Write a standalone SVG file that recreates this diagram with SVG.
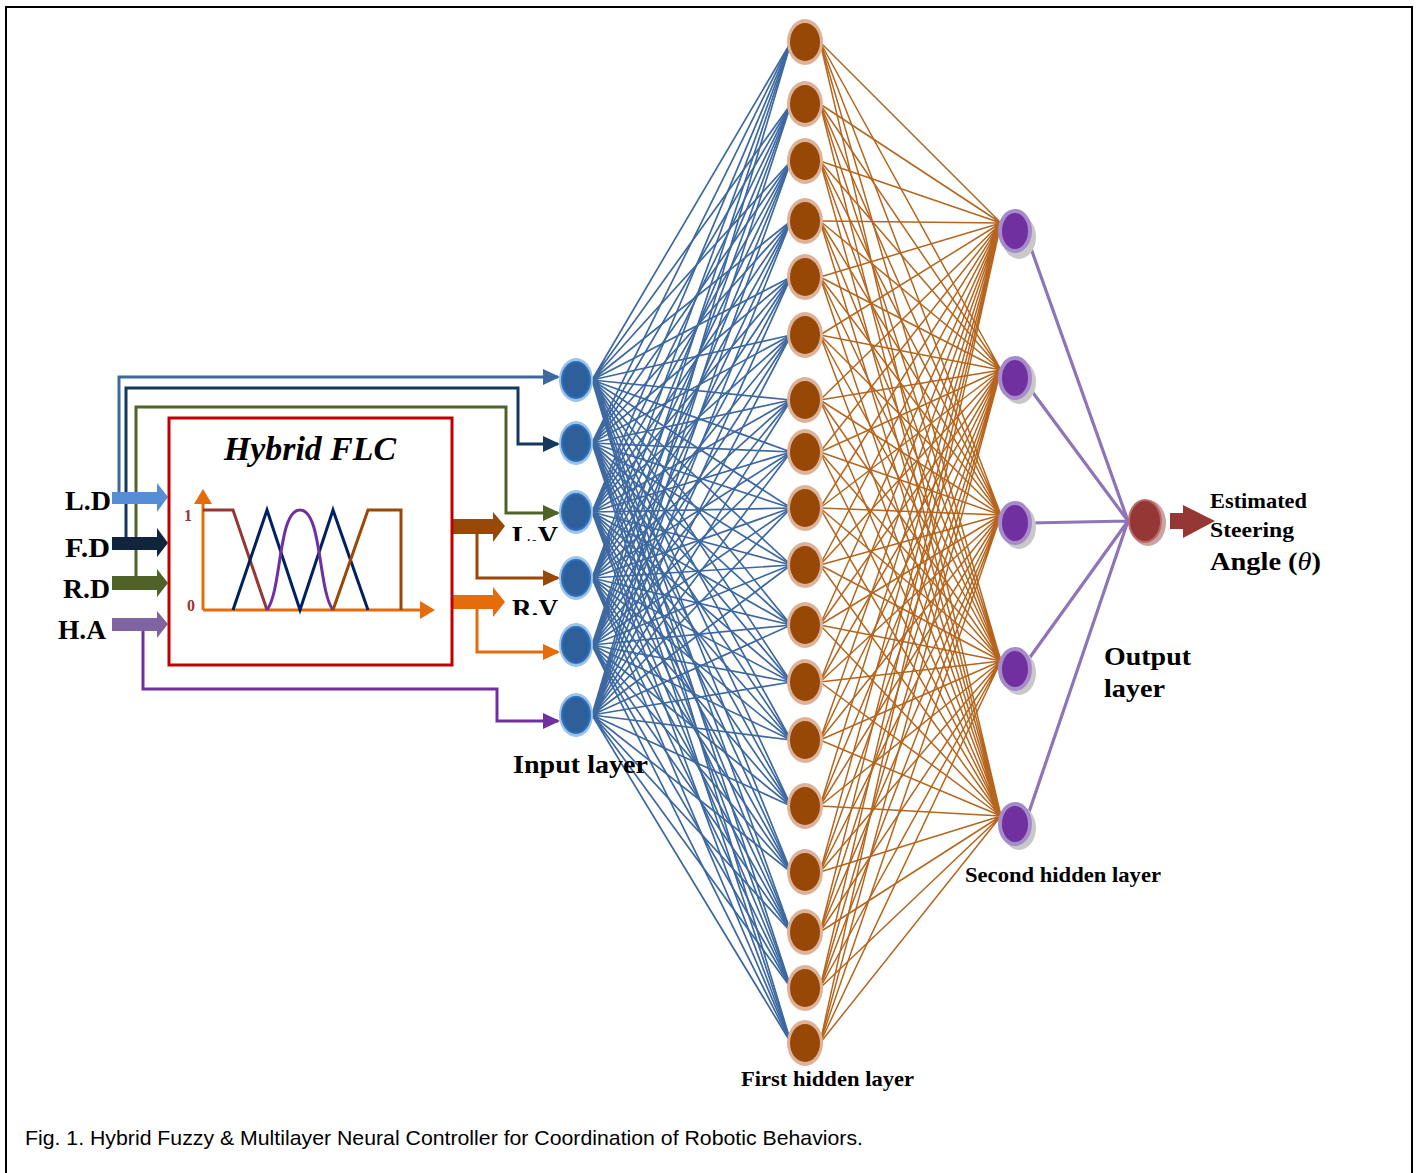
<svg xmlns="http://www.w3.org/2000/svg" width="1418" height="1173" viewBox="0 0 1418 1173">
<style>
.lbl{font-family:"Liberation Serif","Times New Roman",serif;font-weight:bold;fill:#000}
.wb{fill:none;stroke:#3d68a0;stroke-width:1.7}
.wr{fill:none;stroke:#b5651d;stroke-width:1.5}
.wp{fill:none;stroke:#8e74b8;stroke-width:3.2}
.th{fill:none;stroke-width:3}
</style>
<defs>
<marker id="aB" markerWidth="6" markerHeight="6" refX="5" refY="3" orient="auto" markerUnits="strokeWidth"><path d="M0,0.3 L5.7,3 L0,5.7 Z" fill="#3d68a0"/></marker>
<marker id="aN" markerWidth="6" markerHeight="6" refX="5" refY="3" orient="auto" markerUnits="strokeWidth"><path d="M0,0.3 L5.7,3 L0,5.7 Z" fill="#17375e"/></marker>
<marker id="aG" markerWidth="6" markerHeight="6" refX="5" refY="3" orient="auto" markerUnits="strokeWidth"><path d="M0,0.3 L5.7,3 L0,5.7 Z" fill="#4f6228"/></marker>
<marker id="aP" markerWidth="6" markerHeight="6" refX="5" refY="3" orient="auto" markerUnits="strokeWidth"><path d="M0,0.3 L5.7,3 L0,5.7 Z" fill="#7030a0"/></marker>
<marker id="aBr" markerWidth="6" markerHeight="6" refX="5" refY="3" orient="auto" markerUnits="strokeWidth"><path d="M0,0.3 L5.7,3 L0,5.7 Z" fill="#984807"/></marker>
<marker id="aO" markerWidth="6" markerHeight="6" refX="5" refY="3" orient="auto" markerUnits="strokeWidth"><path d="M0,0.3 L5.7,3 L0,5.7 Z" fill="#e46c0a"/></marker>
<marker id="aAx" markerWidth="6" markerHeight="6" refX="4" refY="3" orient="auto" markerUnits="strokeWidth"><path d="M0,0 L5,3 L0,6 Z" fill="#e46c0a"/></marker>
<clipPath id="cLV"><rect x="505" y="515" width="60" height="26"/></clipPath>
<clipPath id="cRV"><rect x="505" y="590" width="60" height="25"/></clipPath>
</defs>
<rect x="6" y="7" width="1406" height="1175" fill="#fff" stroke="#000" stroke-width="2"/>

<g id="connectors">
<path class="wb" d="M592 380L791 42M592 380L791 104M592 380L791 161M592 380L791 221M592 380L791 277M592 380L791 335M592 380L791 400M592 380L791 452M592 380L791 508M592 380L791 565M592 380L791 625M592 380L791 682M592 380L791 740M592 380L791 806M592 380L791 872M592 380L791 932M592 380L791 988M592 380L791 1043"/>
<path class="wb" d="M592 443L791 42M592 443L791 104M592 443L791 161M592 443L791 221M592 443L791 277M592 443L791 335M592 443L791 400M592 443L791 452M592 443L791 508M592 443L791 565M592 443L791 625M592 443L791 682M592 443L791 740M592 443L791 806M592 443L791 872M592 443L791 932M592 443L791 988M592 443L791 1043"/>
<path class="wb" d="M592 512L791 42M592 512L791 104M592 512L791 161M592 512L791 221M592 512L791 277M592 512L791 335M592 512L791 400M592 512L791 452M592 512L791 508M592 512L791 565M592 512L791 625M592 512L791 682M592 512L791 740M592 512L791 806M592 512L791 872M592 512L791 932M592 512L791 988M592 512L791 1043"/>
<path class="wb" d="M592 578L791 42M592 578L791 104M592 578L791 161M592 578L791 221M592 578L791 277M592 578L791 335M592 578L791 400M592 578L791 452M592 578L791 508M592 578L791 565M592 578L791 625M592 578L791 682M592 578L791 740M592 578L791 806M592 578L791 872M592 578L791 932M592 578L791 988M592 578L791 1043"/>
<path class="wb" d="M592 645L791 42M592 645L791 104M592 645L791 161M592 645L791 221M592 645L791 277M592 645L791 335M592 645L791 400M592 645L791 452M592 645L791 508M592 645L791 565M592 645L791 625M592 645L791 682M592 645L791 740M592 645L791 806M592 645L791 872M592 645L791 932M592 645L791 988M592 645L791 1043"/>
<path class="wb" d="M592 715L791 42M592 715L791 104M592 715L791 161M592 715L791 221M592 715L791 277M592 715L791 335M592 715L791 400M592 715L791 452M592 715L791 508M592 715L791 565M592 715L791 625M592 715L791 682M592 715L791 740M592 715L791 806M592 715L791 872M592 715L791 932M592 715L791 988M592 715L791 1043"/>

<path class="wr" d="M820 42L1001 223M820 104L1001 223M820 161L1001 223M820 221L1001 223M820 277L1001 223M820 335L1001 223M820 400L1001 223M820 452L1001 223M820 508L1001 223M820 565L1001 223M820 625L1001 223M820 682L1001 223M820 740L1001 223M820 806L1001 223M820 872L1001 223M820 932L1001 223M820 988L1001 223M820 1043L1001 223"/>
<path class="wr" d="M820 42L1001 370M820 104L1001 370M820 161L1001 370M820 221L1001 370M820 277L1001 370M820 335L1001 370M820 400L1001 370M820 452L1001 370M820 508L1001 370M820 565L1001 370M820 625L1001 370M820 682L1001 370M820 740L1001 370M820 806L1001 370M820 872L1001 370M820 932L1001 370M820 988L1001 370M820 1043L1001 370"/>
<path class="wr" d="M820 42L1001 515M820 104L1001 515M820 161L1001 515M820 221L1001 515M820 277L1001 515M820 335L1001 515M820 400L1001 515M820 452L1001 515M820 508L1001 515M820 565L1001 515M820 625L1001 515M820 682L1001 515M820 740L1001 515M820 806L1001 515M820 872L1001 515M820 932L1001 515M820 988L1001 515M820 1043L1001 515"/>
<path class="wr" d="M820 42L1001 661M820 104L1001 661M820 161L1001 661M820 221L1001 661M820 277L1001 661M820 335L1001 661M820 400L1001 661M820 452L1001 661M820 508L1001 661M820 565L1001 661M820 625L1001 661M820 682L1001 661M820 740L1001 661M820 806L1001 661M820 872L1001 661M820 932L1001 661M820 988L1001 661M820 1043L1001 661"/>
<path class="wr" d="M820 42L1001 816M820 104L1001 816M820 161L1001 816M820 221L1001 816M820 277L1001 816M820 335L1001 816M820 400L1001 816M820 452L1001 816M820 508L1001 816M820 565L1001 816M820 625L1001 816M820 682L1001 816M820 740L1001 816M820 806L1001 816M820 872L1001 816M820 932L1001 816M820 988L1001 816M820 1043L1001 816"/>

<path class="wp" d="M1028 240L1128 521M1028 386L1128 521M1030 523L1128 521M1028 660L1128 521M1028 815L1128 521"/>

<path class="th" stroke="#3d68a0" marker-end="url(#aB)" d="M119 497V377H558"/>
<path class="th" stroke="#17375e" marker-end="url(#aN)" d="M126 543V388H518V444H558"/>
<path class="th" stroke="#4f6228" marker-end="url(#aG)" d="M136 583V407H506V513H558"/>
<path class="th" stroke="#7030a0" marker-end="url(#aP)" d="M143 624V689H497V721H558"/>
<path class="th" stroke="#984807" marker-end="url(#aBr)" d="M477 526V578H558"/>
<path class="th" stroke="#e46c0a" marker-end="url(#aO)" d="M477 602V652H558"/>

<polygon fill="#558ed5" points="112,492 157,492 157,483 168,497 157,512 157,504 112,504"/>
<polygon fill="#10243e" points="112,537 157,537 157,528 168,543 157,557 157,550 112,550"/>
<polygon fill="#4f6228" points="112,576 157,576 157,569 168,583 157,597 157,590 112,590"/>
<polygon fill="#8064a2" points="112,618 157,618 157,611 168,624 157,638 157,631 112,631"/>
<polygon fill="#984807" points="452,519 493,519 493,512 505,526 493,542 493,534 452,534"/>
<polygon fill="#e46c0a" points="452,595 493,595 493,587 505,602 493,617 493,609 452,609"/>
<polygon fill="#953735" points="1170,513 1183,513 1183,505 1215,521 1183,538 1183,529 1170,529"/>
</g>

<g id="inputs">
<text class="lbl" x="65" y="510" font-size="28" textLength="46" lengthAdjust="spacingAndGlyphs">L.D</text>
<text class="lbl" x="65" y="557" font-size="28" textLength="45" lengthAdjust="spacingAndGlyphs">F.D</text>
<text class="lbl" x="63" y="598" font-size="28" textLength="47" lengthAdjust="spacingAndGlyphs">R.D</text>
<text class="lbl" x="58" y="639" font-size="28" textLength="48" lengthAdjust="spacingAndGlyphs">H.A</text>
</g>

<g id="flc">
<rect x="169" y="418" width="283" height="247" fill="none" stroke="#c00000" stroke-width="3"/>
<text class="lbl" x="224" y="460" font-size="33" font-style="italic" textLength="172" lengthAdjust="spacingAndGlyphs">Hybrid FLC</text>
<path d="M203 610V492" stroke="#e46c0a" stroke-width="3" fill="none" marker-end="url(#aAx)"/>
<path d="M203 610H432" stroke="#e46c0a" stroke-width="3" fill="none" marker-end="url(#aAx)"/>
<text x="184" y="521" font-family="Liberation Serif,serif" font-weight="bold" font-size="16" fill="#953735">1</text>
<text x="187" y="611" font-family="Liberation Serif,serif" font-weight="bold" font-size="16" fill="#953735">0</text>
<path d="M203 510H233L267 610" stroke="#953735" stroke-width="3" fill="none"/>
<path d="M233 610L267 510L300 610L333 510L368 610" stroke="#002060" stroke-width="3" fill="none"/>
<path d="M267 610C282 590 278 510 300 510C322 510 318 590 333 610" stroke="#7030a0" stroke-width="3" fill="none"/>
<path d="M333 610L368 510H401V610" stroke="#984807" stroke-width="3" fill="none"/>
<text class="lbl" x="512" y="544" font-size="25" textLength="46" lengthAdjust="spacingAndGlyphs" clip-path="url(#cLV)">L.V</text>
<text class="lbl" x="512" y="617" font-size="25" textLength="46" lengthAdjust="spacingAndGlyphs" clip-path="url(#cRV)">R.V</text>
</g>

<g id="input-layer">
<g fill="#9dc3e6"><ellipse cx="576" cy="380" rx="17" ry="22"/><ellipse cx="576" cy="443" rx="17" ry="22"/><ellipse cx="576" cy="512" rx="17" ry="22"/><ellipse cx="576" cy="578" rx="17" ry="22"/><ellipse cx="576" cy="645" rx="17" ry="22"/><ellipse cx="576" cy="715" rx="17" ry="22"/></g>
<g fill="#2e5f9a" stroke="#2a6fc0" stroke-width="2"><ellipse cx="576" cy="380" rx="14" ry="18"/><ellipse cx="576" cy="443" rx="14" ry="18"/><ellipse cx="576" cy="512" rx="14" ry="18"/><ellipse cx="576" cy="578" rx="14" ry="18"/><ellipse cx="576" cy="645" rx="14" ry="18"/><ellipse cx="576" cy="715" rx="14" ry="18"/></g>
<text class="lbl" x="513" y="773" font-size="26" textLength="135" lengthAdjust="spacingAndGlyphs">Input layer</text>
</g>

<g id="hidden1">
<g fill="#ddb298"><ellipse cx="805" cy="42" rx="18" ry="23"/><ellipse cx="805" cy="104" rx="18" ry="23"/><ellipse cx="805" cy="161" rx="18" ry="23"/><ellipse cx="805" cy="221" rx="18" ry="23"/><ellipse cx="805" cy="277" rx="18" ry="23"/><ellipse cx="805" cy="335" rx="18" ry="23"/><ellipse cx="805" cy="400" rx="18" ry="23"/><ellipse cx="805" cy="452" rx="18" ry="23"/><ellipse cx="805" cy="508" rx="18" ry="23"/><ellipse cx="805" cy="565" rx="18" ry="23"/><ellipse cx="805" cy="625" rx="18" ry="23"/><ellipse cx="805" cy="682" rx="18" ry="23"/><ellipse cx="805" cy="740" rx="18" ry="23"/><ellipse cx="805" cy="806" rx="18" ry="23"/><ellipse cx="805" cy="872" rx="18" ry="23"/><ellipse cx="805" cy="932" rx="18" ry="23"/><ellipse cx="805" cy="988" rx="18" ry="23"/><ellipse cx="805" cy="1043" rx="18" ry="23"/></g>
<g fill="#984806"><ellipse cx="805" cy="42" rx="15" ry="19"/><ellipse cx="805" cy="104" rx="15" ry="19"/><ellipse cx="805" cy="161" rx="15" ry="19"/><ellipse cx="805" cy="221" rx="15" ry="19"/><ellipse cx="805" cy="277" rx="15" ry="19"/><ellipse cx="805" cy="335" rx="15" ry="19"/><ellipse cx="805" cy="400" rx="15" ry="19"/><ellipse cx="805" cy="452" rx="15" ry="19"/><ellipse cx="805" cy="508" rx="15" ry="19"/><ellipse cx="805" cy="565" rx="15" ry="19"/><ellipse cx="805" cy="625" rx="15" ry="19"/><ellipse cx="805" cy="682" rx="15" ry="19"/><ellipse cx="805" cy="740" rx="15" ry="19"/><ellipse cx="805" cy="806" rx="15" ry="19"/><ellipse cx="805" cy="872" rx="15" ry="19"/><ellipse cx="805" cy="932" rx="15" ry="19"/><ellipse cx="805" cy="988" rx="15" ry="19"/><ellipse cx="805" cy="1043" rx="15" ry="19"/></g>
<text class="lbl" x="741" y="1086" font-size="21" textLength="173" lengthAdjust="spacingAndGlyphs">First hidden layer</text>
</g>

<g id="hidden2">
<g fill="#c8c8c8"><ellipse cx="1019" cy="237" rx="17" ry="22"/><ellipse cx="1019" cy="382" rx="17" ry="22"/><ellipse cx="1019" cy="527" rx="17" ry="22"/><ellipse cx="1019" cy="673" rx="17" ry="22"/><ellipse cx="1019" cy="828" rx="17" ry="22"/></g>
<g fill="#7030a0" stroke="#a68bcb" stroke-width="4"><ellipse cx="1015" cy="231" rx="15" ry="20"/><ellipse cx="1015" cy="378" rx="15" ry="20"/><ellipse cx="1015" cy="523" rx="15" ry="20"/><ellipse cx="1015" cy="669" rx="15" ry="20"/><ellipse cx="1015" cy="824" rx="15" ry="20"/></g>
<text class="lbl" x="965" y="882" font-size="21" textLength="196" lengthAdjust="spacingAndGlyphs">Second hidden layer</text>
</g>

<g id="output">
<ellipse cx="1148" cy="523" rx="18" ry="23" fill="#c9a4a3"/>
<ellipse cx="1145" cy="521" rx="16" ry="21" fill="#953735" stroke="#b96b6a" stroke-width="2"/>
<text class="lbl" x="1104" y="665" font-size="26" textLength="87" lengthAdjust="spacingAndGlyphs">Output</text>
<text class="lbl" x="1104" y="697" font-size="26" textLength="61" lengthAdjust="spacingAndGlyphs">layer</text>
<text class="lbl" x="1210" y="508" font-size="21" textLength="97" lengthAdjust="spacingAndGlyphs">Estimated</text>
<text class="lbl" x="1210" y="537" font-size="21" textLength="84" lengthAdjust="spacingAndGlyphs">Steering</text>
<text class="lbl" x="1210" y="570" font-size="25" textLength="111" lengthAdjust="spacingAndGlyphs">Angle (<tspan font-style="italic" font-weight="normal">θ</tspan>)</text>
</g>

<text x="25" y="1145" font-family="Liberation Sans,Arial,sans-serif" font-size="21" textLength="838" lengthAdjust="spacingAndGlyphs" fill="#000">Fig. 1. Hybrid Fuzzy &amp; Multilayer Neural Controller for Coordination of Robotic Behaviors.</text>
</svg>
